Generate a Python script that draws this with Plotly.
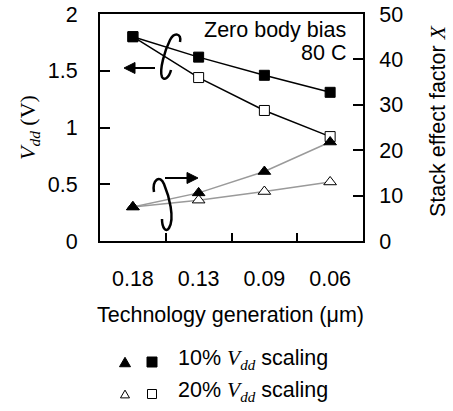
import plotly.graph_objects as go

# ---- data ----
tech = ["0.18", "0.13", "0.09", "0.06"]
vdd_10 = [1.80, 1.62, 1.46, 1.31]
vdd_20 = [1.80, 1.44, 1.15, 0.92]
stack_10 = [7.5, 10.6, 15.3, 21.8]
stack_20 = [7.5, 9.0, 10.9, 13.0]

W, H = 453, 411
L, R, T, B = 100, 363, 14, 241  # plot box in pixels


def px(x):
    return (x - L) / (R - L)


def py(y):
    return (B - y) / (B - T)


FONT = "Liberation Sans, Arial, sans-serif"
SERIF = "Liberation Serif, Times New Roman, serif"
FS = 21.5
VDD = "<span style=\"font-family:'Liberation Serif'\"><i>V<sub>dd</sub></i></span>"

fig = go.Figure()

# stack effect factor (right axis)
fig.add_trace(go.Scatter(x=tech, y=stack_20, yaxis="y2", mode="lines+markers",
                         line=dict(color="#9a9a9a", width=1.5),
                         marker=dict(symbol="triangle-up", size=11, color="white",
                                     line=dict(color="black", width=1)),
                         showlegend=False))
fig.add_trace(go.Scatter(x=tech, y=stack_10, yaxis="y2", mode="lines+markers",
                         line=dict(color="#9a9a9a", width=1.5),
                         marker=dict(symbol="triangle-up", size=11, color="black",
                                     line=dict(color="black", width=1)),
                         showlegend=False))
# Vdd (left axis)
fig.add_trace(go.Scatter(x=tech, y=vdd_20, mode="lines+markers",
                         line=dict(color="black", width=1.5),
                         marker=dict(symbol="square", size=10, color="white",
                                     line=dict(color="black", width=1)),
                         showlegend=False))
fig.add_trace(go.Scatter(x=tech, y=vdd_10, mode="lines+markers",
                         line=dict(color="black", width=1.5),
                         marker=dict(symbol="square", size=10, color="black",
                                     line=dict(color="black", width=1)),
                         showlegend=False))

shapes = []

loop1 = [("M", [(180, 42)]), ("C", [(182, 33), (174, 32), (170, 40)]),
         ("C", [(165, 50), (159, 70), (162, 77)]), ("C", [(164, 81), (169, 78), (171, 70)])]
loop2 = [("M", [(154, 192)]), ("C", [(152, 180), (160, 174), (164, 184)]),
         ("C", [(169, 196), (175, 218), (169, 228)]), ("C", [(166, 233), (162, 228), (162, 219)])]


def build(segs):
    s = ""
    for cmd, pts in segs:
        s += cmd + " " + " ".join(f"{px(x):.4f},{py(y):.4f}" for x, y in pts) + " "
    return s.strip()


for seg in (loop1, loop2):
    shapes.append(dict(type="path", xref="paper", yref="paper", path=build(seg),
                       line=dict(color="black", width=2.5)))


def arrow(x_tail, x_tip, y):
    d = 1 if x_tip > x_tail else -1
    base = x_tip - d * 11
    line = dict(type="line", xref="paper", yref="paper", x0=px(x_tail), x1=px(base),
                y0=py(y), y1=py(y), line=dict(color="black", width=2))
    head = dict(type="path", xref="paper", yref="paper",
                path=f"M {px(x_tip):.4f},{py(y):.4f} L {px(base):.4f},{py(y - 5.5):.4f} "
                     f"L {px(base):.4f},{py(y + 5.5):.4f} Z",
                fillcolor="black", line=dict(color="black", width=1))
    return [line, head]


shapes += arrow(155, 124, 68)
shapes += arrow(165, 198, 178)


# legend keys
def tri(cx, cy, s, fill):
    p = (f"M {px(cx - s/2):.4f},{py(cy + s*0.43):.4f} L {px(cx + s/2):.4f},{py(cy + s*0.43):.4f} "
         f"L {px(cx):.4f},{py(cy - s*0.43):.4f} Z")
    return dict(type="path", xref="paper", yref="paper", path=p,
                fillcolor=fill, line=dict(color="black", width=1))


def sq(cx, cy, s, fill):
    return dict(type="rect", xref="paper", yref="paper",
                x0=px(cx - s/2), x1=px(cx + s/2), y0=py(cy + s/2), y1=py(cy - s/2),
                fillcolor=fill, line=dict(color="black", width=1))


shapes += [tri(125, 362, 11, "black"), sq(152, 362, 10, "black"),
           tri(125, 394, 9, "white"), sq(152, 394, 9, "white")]

annotations = [
    dict(text="Zero body bias", x=px(348), y=py(30), xref="paper", yref="paper",
         xanchor="right", yanchor="middle", showarrow=False, font=dict(size=FS)),
    dict(text="80 C", x=px(348), y=py(53), xref="paper", yref="paper",
         xanchor="right", yanchor="middle", showarrow=False, font=dict(size=FS)),
    # axis titles
    dict(text="<i>V<sub>dd</sub></i> (V)", x=px(29), y=py(128), xref="paper", yref="paper",
         textangle=-90, showarrow=False, xanchor="center", yanchor="middle",
         font=dict(size=22, family=SERIF)),
    dict(text="Stack effect factor <span style=\"font-family:'Liberation Serif'\"><i>X</i></span>",
         x=px(438), y=py(121), xref="paper", yref="paper",
         textangle=-90, showarrow=False, xanchor="center", yanchor="middle",
         font=dict(size=FS)),
    dict(text="Technology generation (\u03bcm)", x=px(230), y=py(315), xref="paper", yref="paper",
         showarrow=False, xanchor="center", yanchor="middle", font=dict(size=FS)),
    # legend texts
    dict(text="10% " + VDD + " scaling", x=px(176), y=py(359), xref="paper", yref="paper",
         showarrow=False, xanchor="left", yanchor="middle", font=dict(size=FS)),
    dict(text="20% " + VDD + " scaling", x=px(176), y=py(391), xref="paper", yref="paper",
         showarrow=False, xanchor="left", yanchor="middle", font=dict(size=FS)),
]

axis_common = dict(showgrid=False, zeroline=False, showline=True, linecolor="black",
                   linewidth=2, ticks="inside", tickcolor="black", tickwidth=1.5,
                   tickfont=dict(size=FS, color="black"))

fig.update_layout(
    width=W, height=H,
    margin=dict(l=L, r=W - R, t=T, b=H - B, autoexpand=False),
    paper_bgcolor="white", plot_bgcolor="white",
    font=dict(family=FONT, size=FS, color="black"),
    xaxis=dict(**axis_common, type="category", range=[-0.5, 3.5], tickson="boundaries",
               ticklen=8, mirror=True, ticklabelstandoff=17),
    yaxis=dict(**axis_common, range=[0, 2], dtick=0.5, ticklen=10, mirror=True,
               ticklabelstandoff=16),
    yaxis2=dict(**axis_common, range=[0, 50], dtick=10, ticklen=10, overlaying="y",
                side="right", ticklabelstandoff=10),
    shapes=shapes,
    annotations=annotations,
    showlegend=False,
)

fig.write_html("out.html", config={"displayModeBar": False},
               post_script="document.body.style.margin='0';")
